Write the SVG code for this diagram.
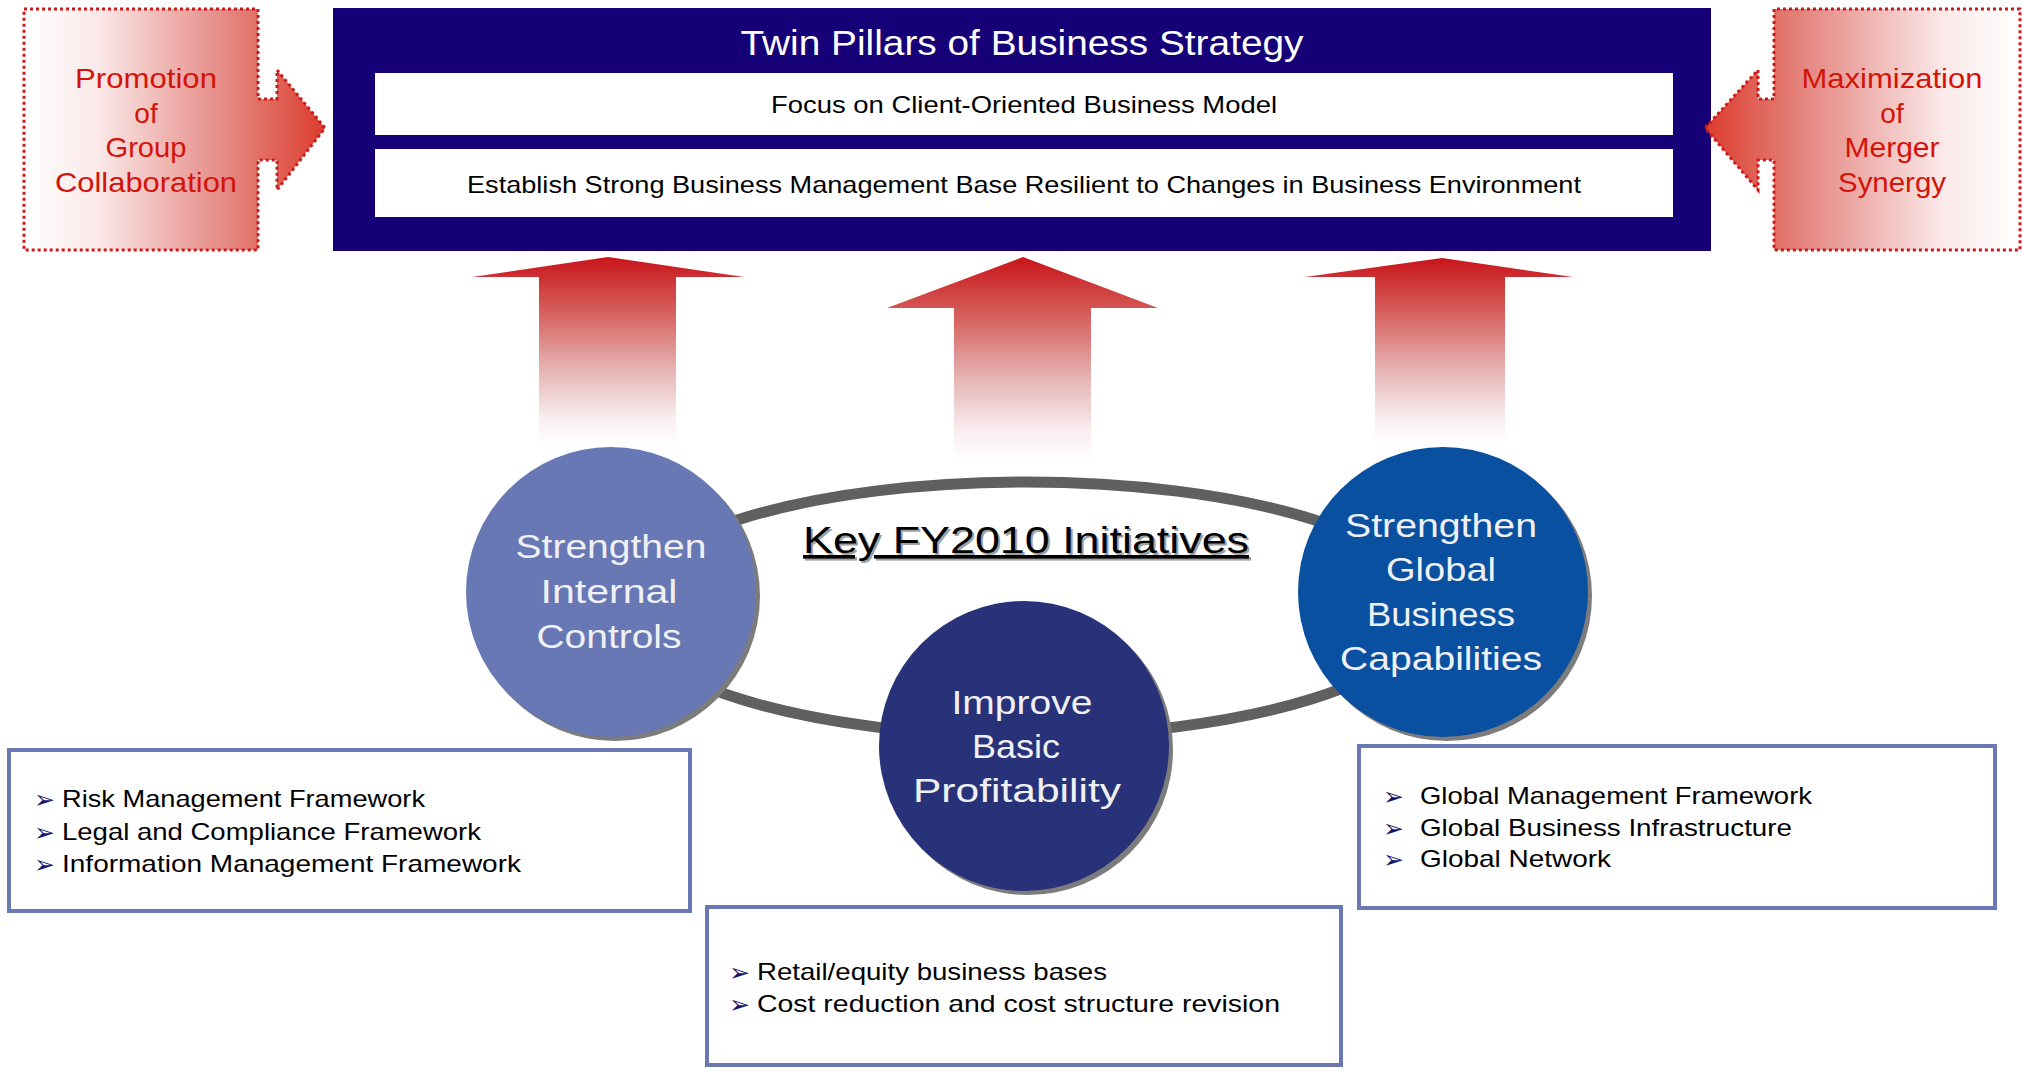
<svg xmlns="http://www.w3.org/2000/svg" width="2022" height="1073" viewBox="0 0 2022 1073">
<style>
text{font-family:"Liberation Sans",Arial,sans-serif}
.ct{fill:#d2140a;font-size:28px;text-anchor:middle}
.cir{fill:#f0f0f4;font-size:33px;text-anchor:middle}
.bar{fill:#000;font-size:24px;text-anchor:middle}
.lst{fill:#000;font-size:24px}
.bul{font-family:"DejaVu Sans",sans-serif;font-size:25px;fill:#141470}
.box{fill:#fff;stroke:#6a78b4;stroke-width:4}
.dot{stroke:#cc1a1a;stroke-width:3;stroke-dasharray:3 3}
.up{fill:url(#gUp)}
.shadow{fill:#7c7c7c}
.key{font-size:36px;text-decoration:underline;text-anchor:middle}
</style>
<defs>
<linearGradient id="gL" gradientUnits="userSpaceOnUse" x1="24" y1="0" x2="325" y2="0">
<stop offset="0" stop-color="#ffffff"/><stop offset="0.25" stop-color="#fae8e8"/><stop offset="0.7" stop-color="#e4827c"/><stop offset="1" stop-color="#dc3c2c"/>
</linearGradient>
<linearGradient id="gR" gradientUnits="userSpaceOnUse" x1="2020" y1="0" x2="1705" y2="0">
<stop offset="0" stop-color="#ffffff"/><stop offset="0.25" stop-color="#fae8e8"/><stop offset="0.7" stop-color="#e4827c"/><stop offset="1" stop-color="#dc3c2c"/>
</linearGradient>
<linearGradient id="gUp" x1="0" y1="0" x2="0" y2="1">
<stop offset="0" stop-color="#c8141a"/><stop offset="0.3" stop-color="#d6625f"/><stop offset="0.6" stop-color="#e6b4b4"/><stop offset="0.85" stop-color="#f8ecee"/><stop offset="1" stop-color="#ffffff"/>
</linearGradient>
</defs>

<g id="strategy">
<rect x="333" y="8" width="1378" height="243" fill="#150078"/>
<text x="1022" y="55" fill="#ffffff" font-size="35" text-anchor="middle" textLength="563" lengthAdjust="spacingAndGlyphs">Twin Pillars of Business Strategy</text>
<rect x="375" y="73" width="1298" height="62" fill="#ffffff"/>
<text class="bar" x="1024" y="113" textLength="506" lengthAdjust="spacingAndGlyphs">Focus on Client-Oriented Business Model</text>
<rect x="375" y="149" width="1298" height="68" fill="#ffffff"/>
<text class="bar" x="1024" y="193" textLength="1114" lengthAdjust="spacingAndGlyphs">Establish Strong Business Management Base Resilient to Changes in Business Environment</text>
</g>

<g id="group-collaboration">
<path class="dot" fill="url(#gL)" d="M24,9 H258 V99 H277 V70 L325,128 L277,190 V160 H258 V250 H24 Z"/>
<text class="ct" x="146" y="88" textLength="142" lengthAdjust="spacingAndGlyphs">Promotion</text>
<text class="ct" x="146" y="123">of</text>
<text class="ct" x="146" y="157" textLength="81" lengthAdjust="spacingAndGlyphs">Group</text>
<text class="ct" x="146" y="192" textLength="182" lengthAdjust="spacingAndGlyphs">Collaboration</text>
</g>

<g id="merger-synergy">
<path class="dot" fill="url(#gR)" d="M2020,9 H1774 V99 H1758 V70 L1705,128 L1758,190 V160 H1774 V250 H2020 Z"/>
<text class="ct" x="1892" y="88" textLength="181" lengthAdjust="spacingAndGlyphs">Maximization</text>
<text class="ct" x="1892" y="123">of</text>
<text class="ct" x="1892" y="157" textLength="95" lengthAdjust="spacingAndGlyphs">Merger</text>
<text class="ct" x="1892" y="192" textLength="108" lengthAdjust="spacingAndGlyphs">Synergy</text>
</g>

<g id="connectors">
<path class="up" d="M608,257 L744,277 H676 V445 H539 V277 H472 Z"/>
<path class="up" d="M1023,257 L1158,308 H1091 V460 H954 V308 H887 Z"/>
<path class="up" d="M1442,258 L1573,277 H1505 V445 H1375 V277 H1305 Z"/>
<ellipse cx="1026" cy="609" rx="405" ry="127" fill="none" stroke="#606060" stroke-width="11"/>
</g>

<g id="key-title">
<text class="key" x="1028" y="555" fill="#a0a0a0" textLength="446" lengthAdjust="spacingAndGlyphs">Key FY2010 Initiatives</text>
<text class="key" x="1026" y="553" fill="#000000" textLength="446" lengthAdjust="spacingAndGlyphs">Key FY2010 Initiatives</text>
</g>

<g id="internal-controls">
<circle class="shadow" cx="615" cy="596" r="145"/>
<circle cx="611" cy="592" r="145" fill="#6878b4"/>
<text class="cir" x="611" y="558" textLength="191" lengthAdjust="spacingAndGlyphs">Strengthen</text>
<text class="cir" x="609" y="603" textLength="137" lengthAdjust="spacingAndGlyphs">Internal</text>
<text class="cir" x="609" y="648" textLength="145" lengthAdjust="spacingAndGlyphs">Controls</text>
</g>

<g id="basic-profitability">
<circle class="shadow" cx="1028" cy="750" r="145"/>
<circle cx="1024" cy="746" r="145" fill="#283278"/>
<text class="cir" x="1022" y="714" textLength="141" lengthAdjust="spacingAndGlyphs">Improve</text>
<text class="cir" x="1016" y="758" textLength="88" lengthAdjust="spacingAndGlyphs">Basic</text>
<text class="cir" x="1017" y="802" textLength="208" lengthAdjust="spacingAndGlyphs">Profitability</text>
</g>

<g id="global-business">
<circle class="shadow" cx="1447" cy="596" r="145"/>
<circle cx="1443" cy="592" r="145" fill="#0a50a0"/>
<text class="cir" x="1441" y="537" textLength="192" lengthAdjust="spacingAndGlyphs">Strengthen</text>
<text class="cir" x="1441" y="581" textLength="110" lengthAdjust="spacingAndGlyphs">Global</text>
<text class="cir" x="1441" y="626" textLength="148" lengthAdjust="spacingAndGlyphs">Business</text>
<text class="cir" x="1441" y="670" textLength="202" lengthAdjust="spacingAndGlyphs">Capabilities</text>
</g>

<g id="list-internal">
<rect class="box" x="9" y="750" width="681" height="161"/>
<text class="bul" x="34" y="808">➢</text>
<text class="lst" x="62" y="807" textLength="363" lengthAdjust="spacingAndGlyphs">Risk Management Framework</text>
<text class="bul" x="34" y="841">➢</text>
<text class="lst" x="62" y="840" textLength="419" lengthAdjust="spacingAndGlyphs">Legal and Compliance Framework</text>
<text class="bul" x="34" y="873">➢</text>
<text class="lst" x="62" y="872" textLength="459" lengthAdjust="spacingAndGlyphs">Information Management Framework</text>
</g>

<g id="list-profitability">
<rect class="box" x="707" y="907" width="634" height="158"/>
<text class="bul" x="729" y="981">➢</text>
<text class="lst" x="757" y="980" textLength="350" lengthAdjust="spacingAndGlyphs">Retail/equity business bases</text>
<text class="bul" x="729" y="1013">➢</text>
<text class="lst" x="757" y="1012" textLength="523" lengthAdjust="spacingAndGlyphs">Cost reduction and cost structure revision</text>
</g>

<g id="list-global">
<rect class="box" x="1359" y="746" width="636" height="162"/>
<text class="bul" x="1383" y="805">➢</text>
<text class="lst" x="1420" y="804" textLength="392" lengthAdjust="spacingAndGlyphs">Global Management Framework</text>
<text class="bul" x="1383" y="837">➢</text>
<text class="lst" x="1420" y="836" textLength="372" lengthAdjust="spacingAndGlyphs">Global Business Infrastructure</text>
<text class="bul" x="1383" y="868">➢</text>
<text class="lst" x="1420" y="867" textLength="191" lengthAdjust="spacingAndGlyphs">Global Network</text>
</g>
</svg>
